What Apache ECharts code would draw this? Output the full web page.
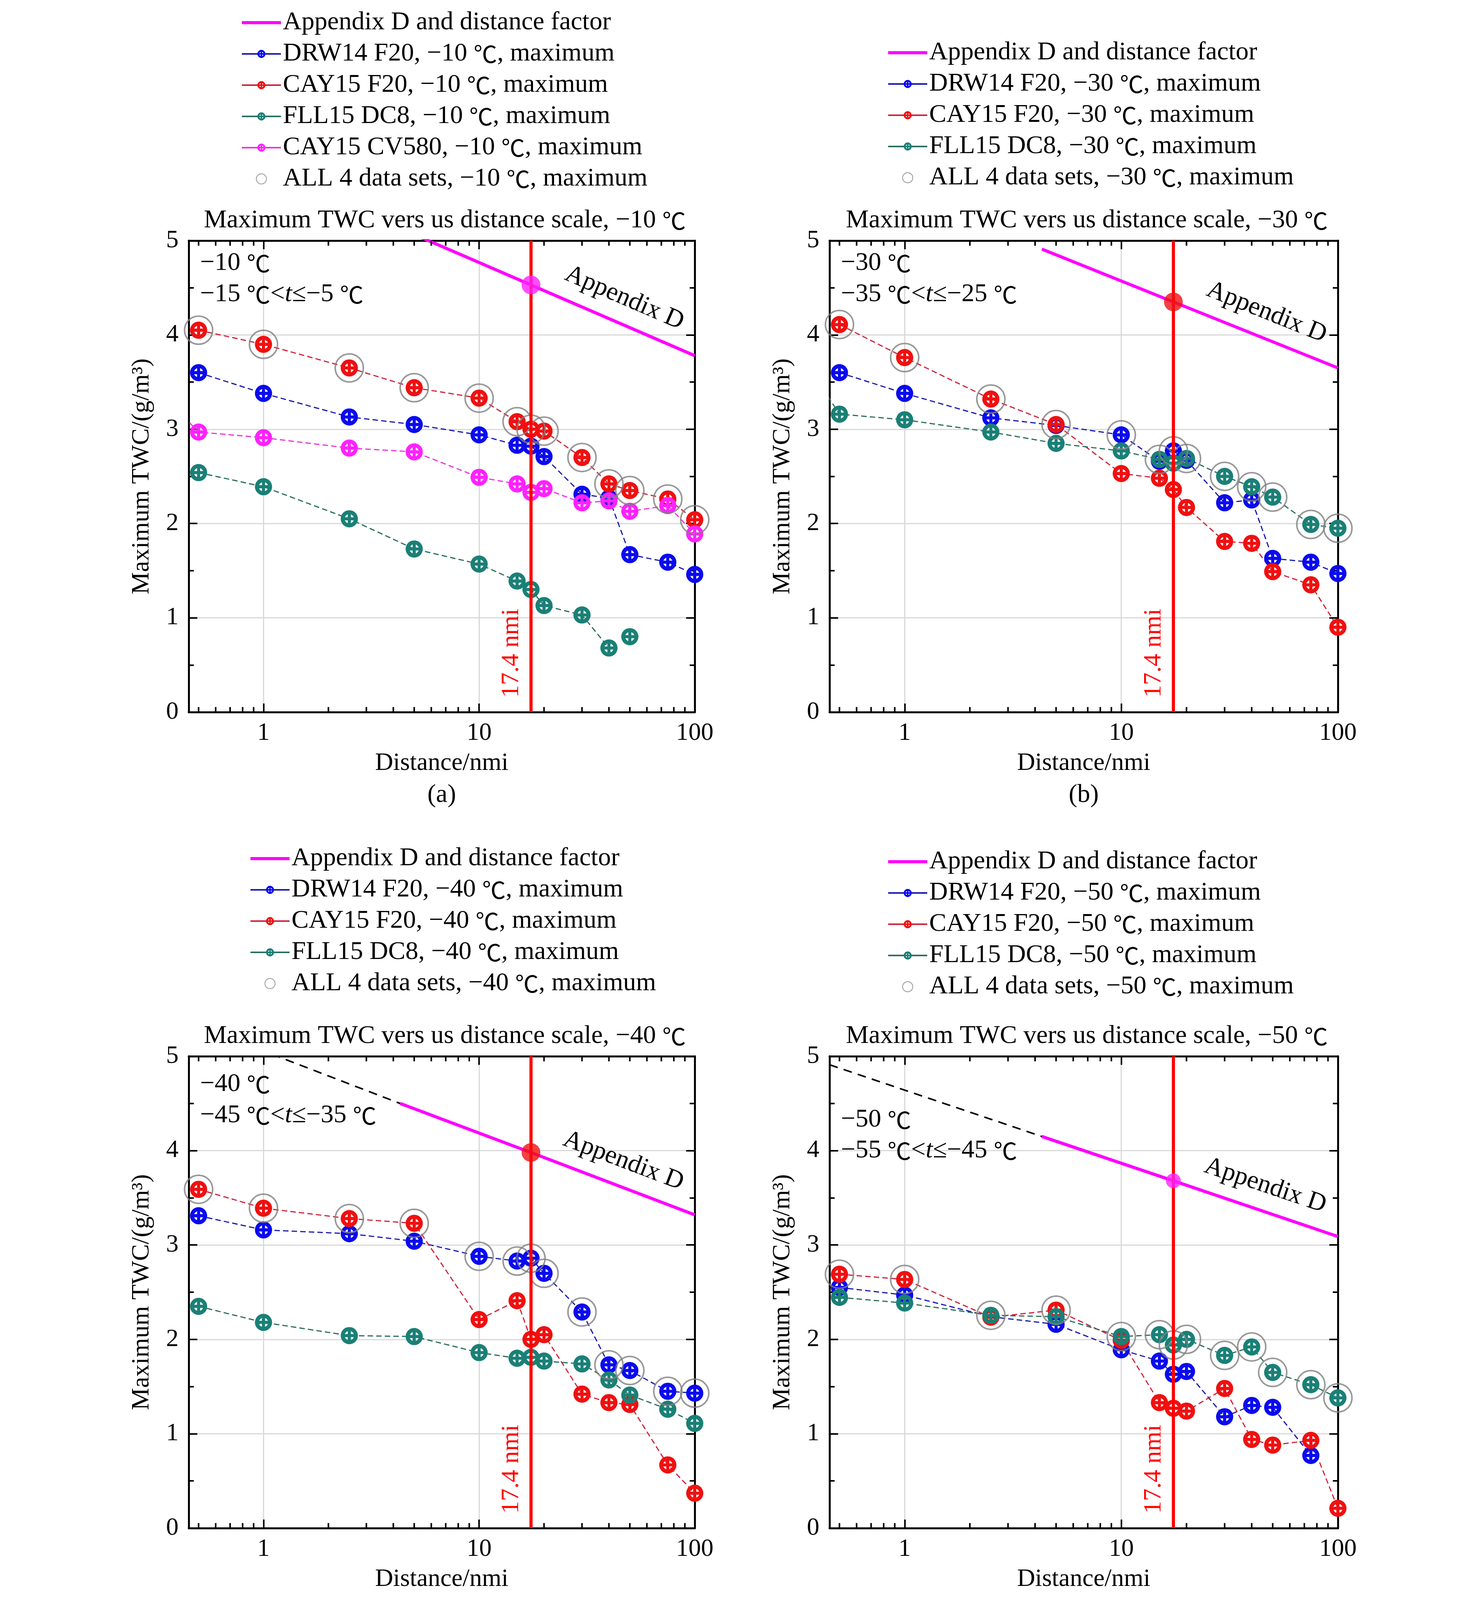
<!DOCTYPE html>
<html><head><meta charset="utf-8">
<script src="https://cdn.jsdelivr.net/npm/echarts@6/dist/echarts.min.js"></script>
<style>html,body{margin:0;padding:0;background:#fff}#c{width:3780px;height:4161px}</style>
</head><body><div id="c"></div>
<script>
// ---------------- data ----------------
const distances = [0.5, 1, 2.5, 5, 10, 15, 17.4, 20, 30, 40, 50, 75, 100];
const xMinorTicks = [0.5,0.6,0.7,0.8,0.9,2,3,4,5,6,7,8,9,20,30,40,50,60,70,80,90];
const refDistance = 17.4;
const offAxisDistance = 0.4;

// (a) -10 C
const a_DRW14   = [3.60,3.38,3.13,3.05,2.94,2.83,2.82,2.71,2.31,2.27,1.67,1.59,1.46];
const a_CAY15   = [4.05,3.90,3.65,3.44,3.33,3.08,3.00,2.98,2.70,2.42,2.35,2.26,2.04];
const a_FLL15   = [2.54,2.39,2.05,1.73,1.57,1.39,1.30,1.13,1.03,0.68,0.80,null,null];
const a_FLL15_gapBefore = 50;
const a_CV580   = [2.97,2.91,2.80,2.76,2.49,2.42,2.33,2.37,2.22,2.24,2.13,2.19,1.89];
const a_CV580_offLeft = 3.20;
const a_ALL     = [4.05,3.90,3.65,3.44,3.33,3.08,3.00,2.98,2.70,2.42,2.35,2.26,2.04];
// (b) -30 C
const b_DRW14   = [3.60,3.38,3.12,3.04,2.94,2.66,2.77,2.67,2.22,2.25,1.63,1.59,1.47];
const b_CAY15   = [4.11,3.76,3.32,3.05,2.53,2.48,2.36,2.17,1.81,1.79,1.49,1.35,0.90];
const b_FLL15   = [3.16,3.10,2.97,2.85,2.77,2.68,2.64,2.69,2.50,2.39,2.28,1.99,1.95];
const b_FLL15_offLeft = 3.50;
const b_ALL     = [4.11,3.76,3.32,3.05,2.94,2.68,2.77,2.69,2.50,2.39,2.28,1.99,1.95];
// (c) -40 C
const c_DRW14   = [3.31,3.16,3.12,3.04,2.88,2.83,2.86,2.70,2.29,1.73,1.67,1.45,1.43];
const c_CAY15   = [3.59,3.39,3.28,3.23,2.21,2.41,2.00,2.05,1.42,1.33,1.31,0.67,0.37];
const c_FLL15   = [2.35,2.18,2.04,2.03,1.86,1.80,1.81,1.77,1.74,1.57,1.41,1.26,1.11];
const c_ALL     = [3.59,3.39,3.28,3.23,2.88,2.83,2.86,2.70,2.29,1.73,1.67,1.45,1.43];
// (d) -50 C
const d_DRW14   = [2.55,2.47,2.24,2.16,1.89,1.77,1.63,1.66,1.18,1.30,1.28,0.77,null];
const d_CAY15   = [2.69,2.635,2.235,2.31,1.99,1.33,1.27,1.24,1.48,0.94,0.88,0.93,0.21];
const d_FLL15   = [2.445,2.385,2.255,2.24,2.03,2.05,1.94,2.00,1.83,1.92,1.65,1.52,1.38];
const d_ALL     = [2.69,2.635,2.255,2.31,2.03,2.05,1.94,2.00,1.83,1.92,1.65,1.52,1.38];

// Appendix D and distance factor
const appD_x    = [4.3, 17.4, 100];
const appD_a    = [5.13, 4.53, 3.78];
const appD_b    = [4.91, 4.35, 3.65];
const appD_c    = [4.50, 3.98, 3.32];
const appD_d    = [4.15, 3.68, 3.09];
const appDext_x = [0.45, 4.3];
const appDext_c = [5.36, 4.50];
const appDext_d = [4.91, 4.15];

// ---------------- style / layout ----------------
const FONT = "'Liberation Serif','Times New Roman',serif";
const CJK = "'Noto Sans CJK SC','Noto Sans CJK JP',sans-serif";
const FS = 66;     // titles, legend, annotations
const FST = 64;    // tick labels / axis names
const FSC = 60;    // degree-celsius glyph
const COLORS = {
  blue:    {m:'#0a0aef', l:'#1a1ab0'},
  red:     {m:'#f01010', l:'#d0243c'},
  green:   {m:'#1a8076', l:'#2a6e60'},
  magenta: {m:'#ff22ff', l:'#ee33dd'}
};
const MARK = 'path://M0,10 A10,10 0 1,1 20,10 A10,10 0 1,1 0,10 Z M4.6,10 A5.4,5.4 0 1,0 15.4,10 A5.4,5.4 0 1,0 4.6,10 Z M8.2,1 H11.8 V19 H8.2 Z M1,8.2 H19 V11.8 H1 Z';
const APPD_NAME = 'Appendix D and distance factor';
const C = s => s.replace(/℃/g, '{c|℃}');

const panels = [
  {temp:'−10', range:'−15 ℃<{i|t}≤−5 ℃', label:'(a)',
   grid:{left:483, top:616, width:1295, height:1207}, legend:{left:610, top:20}, annot:[58,138],
   series:[['DRW14 F20',a_DRW14,'blue'],['CAY15 F20',a_CAY15,'red'],['FLL15 DC8',a_FLL15,'green',null,a_FLL15_gapBefore],['CAY15 CV580',a_CV580,'magenta',a_CV580_offLeft]],
   all:a_ALL, appD:appD_a, appDext:null, refColor:'#ff22ff', refSize:48},
  {temp:'−30', range:'−35 ℃<{i|t}≤−25 ℃', label:'(b)',
   grid:{left:2123, top:616, width:1301, height:1207}, legend:{left:2264, top:97}, annot:[58,138],
   series:[['DRW14 F20',b_DRW14,'blue'],['CAY15 F20',b_CAY15,'red'],['FLL15 DC8',b_FLL15,'green',b_FLL15_offLeft]],
   all:b_ALL, appD:appD_b, appDext:null, refColor:'#f01010', refSize:48},
  {temp:'−40', range:'−45 ℃<{i|t}≤−35 ℃', label:'(c)',
   grid:{left:483, top:2704, width:1295, height:1208}, legend:{left:632, top:2160}, annot:[72,152],
   series:[['DRW14 F20',c_DRW14,'blue'],['CAY15 F20',c_CAY15,'red'],['FLL15 DC8',c_FLL15,'green']],
   all:c_ALL, appD:appD_c, appDext:appDext_c, refColor:'#f01010', refSize:48},
  {temp:'−50', range:'−55 ℃<{i|t}≤−45 ℃', label:'(d)',
   grid:{left:2123, top:2704, width:1301, height:1208}, legend:{left:2264, top:2168}, annot:[163,242],
   series:[['DRW14 F20',d_DRW14,'blue'],['CAY15 F20',d_CAY15,'red'],['FLL15 DC8',d_FLL15,'green']],
   all:d_ALL, appD:appD_d, appDext:appDext_d, refColor:'#ff22ff', refSize:38}
];

function pairs(xs, ys, offLeft, gapBefore){
  const out = [];
  if (offLeft != null) out.push([offAxisDistance, offLeft]);
  xs.forEach((x,i)=>{
    if (ys[i] == null) return;
    if (gapBefore != null && x === gapBefore) out.push([x, '-']);
    out.push([x, ys[i]]);
  });
  return out;
}

const grids=[], xAxes=[], yAxes=[], series=[], legends=[];
const axisLineStyle = {color:'#000', width:5};
panels.forEach((p,i)=>{
  grids.push(Object.assign({containLabel:false, outerBoundsMode:'none'}, p.grid));
  const xBase = {type:'log', logBase:10, min:0.45, max:100, gridIndex:i,
    axisLine:{show:true, onZero:false, lineStyle:axisLineStyle},
    axisTick:{show:true, inside:true, length:22, lineStyle:{color:'#000', width:4}}};
  xAxes.push(Object.assign({}, xBase, {position:'bottom',
    name:'Distance/nmi', nameLocation:'middle', nameGap:99,
    nameTextStyle:{fontSize:FST, fontFamily:FONT, color:'#000'},
    axisLabel:{show:true, margin:22, fontSize:FST, fontFamily:FONT, color:'#000', showMinLabel:false, showMaxLabel:true},
    splitLine:{show:true, lineStyle:{color:'#d9d9d9', width:3}}}));
  xAxes.push(Object.assign({}, xBase, {position:'top', axisLabel:{show:false}, splitLine:{show:false}}));
  const yBase = {type:'value', min:0, max:5, interval:1, gridIndex:i,
    axisLine:{show:true, onZero:false, lineStyle:axisLineStyle},
    axisTick:{show:true, inside:true, length:22, lineStyle:{color:'#000', width:4}},
    minorTick:{show:true, splitNumber:2, length:13, lineStyle:{color:'#000', width:4}}};
  yAxes.push(Object.assign({}, yBase, {position:'left',
    name:'Maximum TWC/(g/m³)', nameLocation:'middle', nameGap:88,
    nameTextStyle:{fontSize:FST, fontFamily:FONT, color:'#000'},
    axisLabel:{show:true, margin:26, fontSize:FST, fontFamily:FONT, color:'#000'},
    splitLine:{show:true, lineStyle:{color:'#d9d9d9', width:3}}}));
  yAxes.push(Object.assign({}, yBase, {position:'right', axisLabel:{show:false}, splitLine:{show:false}}));
  const xi = 2*i, yi = 2*i;

  if (p.appDext) {
    series.push({type:'line', name:'Appendix D extension '+i, xAxisIndex:xi, yAxisIndex:yi, z:2, silent:true,
      symbol:'none', data:pairs(appDext_x, p.appDext),
      lineStyle:{color:'#000', width:4, type:[22,16]}});
  }
  series.push({type:'line', name:APPD_NAME, xAxisIndex:xi, yAxisIndex:yi, z:2, silent:true,
    symbol:'none', data:pairs(appD_x, p.appD),
    lineStyle:{color:'#ff00ff', width:8},
    itemStyle:{color:'#ff00ff'},
    markLine:{silent:true, symbol:'none', label:{show:false}, animation:false,
      lineStyle:{color:'#ff0000', width:8, type:'solid'}, data:[{xAxis:refDistance}]}});

  const names = [{name:APPD_NAME, itemStyle:{opacity:0}, lineStyle:{width:8, type:'solid'}}];
  p.series.forEach(([src, ys, col, offLeft, gapBefore])=>{
    const nm = `${src}, ${p.temp} ℃, maximum`;
    names.push(nm);
    series.push({type:'line', name:nm, xAxisIndex:xi, yAxisIndex:yi, z:3,
      symbol:MARK, symbolSize:44, showAllSymbol:true, clip:true,
      data:pairs(distances, ys, offLeft, gapBefore),
      itemStyle:{color:COLORS[col].m},
      lineStyle:{color:COLORS[col].l, width:3, type:[14,8]}});
  });
  const allName = `ALL 4 data sets, ${p.temp} ℃, maximum`;
  names.push(allName);
  series.push({type:'scatter', name:allName, xAxisIndex:xi, yAxisIndex:yi, z:4,
    symbol:'circle', symbolSize:72, data:pairs(distances, p.all),
    itemStyle:{color:'rgba(0,0,0,0)', borderColor:'#808080', borderWidth:4}});
  series.push({type:'scatter', name:'ref point '+i, xAxisIndex:xi, yAxisIndex:yi, z:5, silent:true,
    symbol:'circle', symbolSize:p.refSize, data:[[refDistance, p.appD[1]]],
    itemStyle:{color:p.refColor}});
  series.push({type:'custom', name:'minor ticks '+i, xAxisIndex:xi, yAxisIndex:yi, z:6, silent:true, clip:false,
    data:xMinorTicks.map(v=>[v,0]), encode:{x:0, y:1},
    renderItem:function(params, api){
      const b = api.coord([api.value(0), 0]);
      const t = api.coord([api.value(0), 5]);
      return {type:'group', children:[
        {type:'line', shape:{x1:b[0], y1:b[1], x2:b[0], y2:b[1]-13}, style:{stroke:'#000', lineWidth:4}},
        {type:'line', shape:{x1:t[0], y1:t[1], x2:t[0], y2:t[1]+13}, style:{stroke:'#000', lineWidth:4}}
      ]};
    }});

  legends.push({orient:'vertical', left:p.legend.left, top:p.legend.top, data:names,
    itemWidth:100, itemHeight:26, itemGap:14, selectedMode:false,
    lineStyle:{type:'solid', width:4},
    formatter: n => C(n),
    textStyle:{fontSize:FS, fontFamily:FONT, color:'#000', lineHeight:62,
      rich:{c:{fontSize:FSC, fontFamily:CJK, color:'#000', lineHeight:62}}}});
});

const chart = echarts.init(document.getElementById('c'), null, {renderer:'canvas'});
chart.setOption({
  animation:false,
  backgroundColor:'#ffffff',
  textStyle:{fontFamily:FONT},
  grid:grids, xAxis:xAxes, yAxis:yAxes, legend:legends, series:series
});

// ---------------- text overlays ----------------
const gfx = [];
const RICH = {
  c:{fontSize:FSC, fontFamily:CJK, fill:'#000'},
  i:{fontSize:FS, fontFamily:FONT, fontStyle:'italic', fill:'#000'}
};
const txt = (x,y,text,extra,rot)=>({type:'text', x:x, y:y, rotation:rot||0, z:50, silent:true,
  style:Object.assign({text:text, fontSize:FS, fontFamily:FONT, fill:'#000', align:'center', verticalAlign:'middle', rich:RICH}, extra||{})});
panels.forEach((p,i)=>{
  const G = p.grid;
  const cx = G.left + G.width/2;
  const finder = {xAxisIndex:2*i, yAxisIndex:2*i};
  gfx.push(txt(cx+8, G.top-51, C(`Maximum TWC vers us distance scale, ${p.temp} ℃`)));
  gfx.push(txt(cx, G.top+G.height+213, p.label));
  gfx.push(txt(G.left+29, G.top+p.annot[0], C(`${p.temp} ℃`), {align:'left'}));
  gfx.push(txt(G.left+29, G.top+p.annot[1], C(p.range), {align:'left'}));
  const r0 = chart.convertToPixel(finder, [refDistance, 0]);
  gfx.push(txt(r0[0]-50, r0[1]-151, '17.4 nmi', {fill:'#ff0000', fontSize:FST}, Math.PI/2));
  const p1 = chart.convertToPixel(finder, [appD_x[1], p.appD[1]]);
  const p2 = chart.convertToPixel(finder, [appD_x[2], p.appD[2]]);
  const th = Math.atan2(p2[1]-p1[1], p2[0]-p1[0]);
  const f = 0.51;
  const px = p1[0] + f*(p2[0]-p1[0]) + 64*Math.sin(th);
  const py = p1[1] + f*(p2[1]-p1[1]) - 64*Math.cos(th);
  gfx.push(txt(px, py, 'Appendix D', {}, -th));
});
chart.setOption({graphic:gfx});
</script>
</body></html>
